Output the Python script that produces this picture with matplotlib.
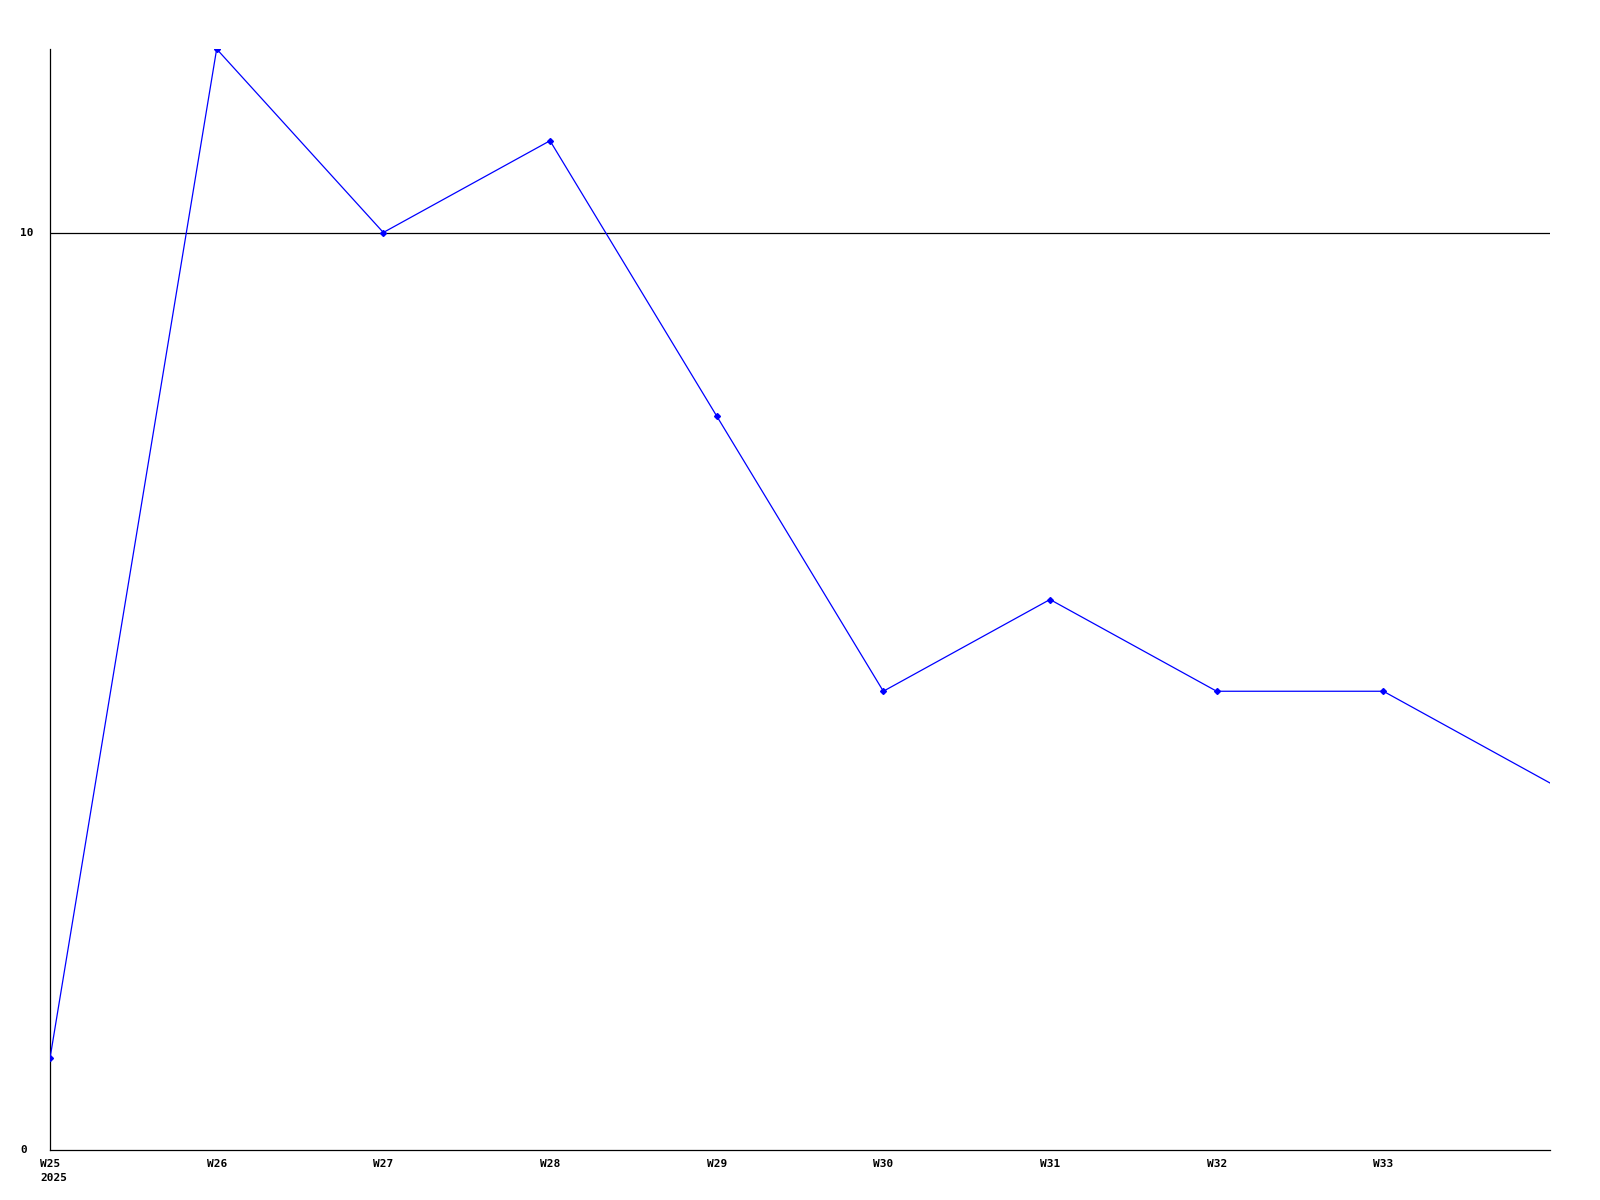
import matplotlib
matplotlib.use("Agg")
import matplotlib.pyplot as plt
import matplotlib.transforms as mtransforms

weeks = ["W25", "W26", "W27", "W28", "W29", "W30", "W31", "W32", "W33", "W34"]
tick_labels = ["W25\n2025", "W26", "W27", "W28", "W29", "W30", "W31", "W32", "W33"]
values = [1, 12, 10, 11, 8, 5, 6, 5, 5, 4]
y_ticks = [0, 10]

fig = plt.figure(figsize=(16, 12), dpi=100)
ax = fig.add_axes([50/1600, 1 - 1150/1200, 1500/1600, (1150 - 49)/1200])

x = list(range(len(values)))
ax.plot(x, values, color=(0, 0, 1), lw=0.9, zorder=3)
ax.plot(x[:-1], values[:-1], ls="none", marker="D", ms=3, color=(0, 0, 1), zorder=4)

ax.set_xlim(0, len(values) - 1)
ax.set_ylim(0, 12)

ax.axhline(10, color="black", lw=0.9, zorder=2)

for s in ["top", "right"]:
    ax.spines[s].set_visible(False)
for s in ["left", "bottom"]:
    ax.spines[s].set_linewidth(0.9)
    ax.spines[s].set_color("black")

font = dict(family="DejaVu Sans Mono", weight="bold", size=8)

ax.set_xticks([])
ax.set_yticks([])

xoff = mtransforms.ScaledTranslation(-10/100, -9/100, fig.dpi_scale_trans)
for i, lab in enumerate(tick_labels):
    ax.text(i, 0, lab, transform=ax.get_xaxis_transform() + xoff,
            ha="left", va="top", linespacing=1.45, clip_on=False, **font)

ytrans = mtransforms.blended_transform_factory(fig.transFigure, ax.transData)
for v in y_ticks:
    ax.text(20/1600, v, str(v), transform=ytrans, ha="left", va="center",
            clip_on=False, **font)

fig.savefig("out.png", dpi=100, facecolor="white")
